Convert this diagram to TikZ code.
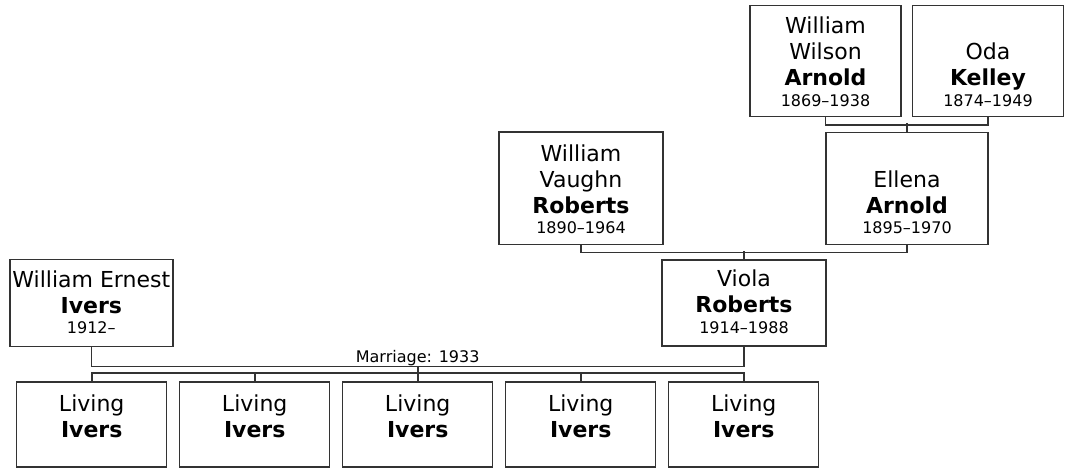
\documentclass[tikz,border=0pt]{standalone}
\usepackage{fontspec}
\setmainfont{DejaVu Sans}
\usepackage{xcolor}
\definecolor{Frame}{HTML}{333333}
\newcommand{\years}[1]{{\fontsize{16}{19}\selectfont #1}}

\begin{document}
\begin{tikzpicture}[x=1pt,y=-1pt,
    person/.style={draw=Frame,line width=1.4pt,inner sep=0pt},
    who/.style={align=center,anchor=south,inner sep=0pt,font=\fontsize{22}{26}\selectfont},
    link/.style={draw=Frame,line width=1.6pt}]
  \useasboundingbox (0,0) rectangle (1066,468);
  % boxes
  \node[person,minimum width=151,minimum height=111] (wwa) at (825.5,61.2) {};
  \node[person,minimum width=151,minimum height=111] (oda) at (988,61.2) {};
  \node[person,minimum width=164,minimum height=112] (wvr) at (581,188.2) {};
  \node[person,minimum width=162,minimum height=112] (ell) at (907,188.4) {};
  \node[person,minimum width=163,minimum height=87] (wei) at (91.3,302.7) {};
  \node[person,minimum width=164,minimum height=86] (vio) at (744,303) {};
  \node[person,minimum width=150,minimum height=85] (liv1) at (91.7,424.5) {};
  \node[person,minimum width=150,minimum height=85] (liv2) at (254.7,424.5) {};
  \node[person,minimum width=150,minimum height=85] (liv3) at (417.7,424.5) {};
  \node[person,minimum width=150,minimum height=85] (liv4) at (580.7,424.5) {};
  \node[person,minimum width=150,minimum height=85] (liv5) at (743.7,424.5) {};
  % names
  \node[who,yshift=10.7] (wwa-t) at (wwa.south) {William\\Wilson\\\textbf{Arnold}\\[-5.4pt]\years{1869--1938}};
  \node[who,yshift=10.7] (oda-t) at (oda.south) {Oda\\\textbf{Kelley}\\[-5.4pt]\years{1874--1949}};
  \node[who,yshift=10.7] (wvr-t) at (wvr.south) {William\\Vaughn\\\textbf{Roberts}\\[-5.4pt]\years{1890--1964}};
  \node[who,yshift=10.7] (ell-t) at (ell.south) {Ellena\\\textbf{Arnold}\\[-5.4pt]\years{1895--1970}};
  \node[who,yshift=12.7] (wei-t) at (wei.south) {William Ernest\\\textbf{Ivers}\\[-5.4pt]\years{1912--}};
  \node[who,yshift=13] (vio-t) at (vio.south) {Viola\\\textbf{Roberts}\\[-5.4pt]\years{1914--1988}};
  \node[who,yshift=29.3] (liv1-t) at (liv1.south) {Living\\\textbf{Ivers}};
  \node[who,yshift=29.3] (liv2-t) at (liv2.south) {Living\\\textbf{Ivers}};
  \node[who,yshift=29.3] (liv3-t) at (liv3.south) {Living\\\textbf{Ivers}};
  \node[who,yshift=29.3] (liv4-t) at (liv4.south) {Living\\\textbf{Ivers}};
  \node[who,yshift=29.3] (liv5-t) at (liv5.south) {Living\\\textbf{Ivers}};
  % family lines
  \draw[link] (wwa.south) -- ++(0,7.6) -| (oda.south);
  \draw[link] (ell.north) -- ++(0,-8.4);
  \draw[link] (wvr.south) -- ++(0,7.7) -| (ell.south);
  \draw[link] (vio.north) -- ++(0,-8.3);
  \draw[link] (wei.south) -- ++(0,19.7) -| (vio.south)
    node[pos=0.25,above,inner sep=0pt,font=\fontsize{16}{19}\selectfont] (wed) {Marriage: 1933};
  \draw[link] (liv1.north) -- ++(0,-8.5) -| (liv5.north);
  \draw[link] (liv2.north) -- ++(0,-8.5);
  \draw[link] (liv4.north) -- ++(0,-8.5);
  \draw[link] (liv3.north) -- (liv3.north |- wed.south);
\end{tikzpicture}
\end{document}
